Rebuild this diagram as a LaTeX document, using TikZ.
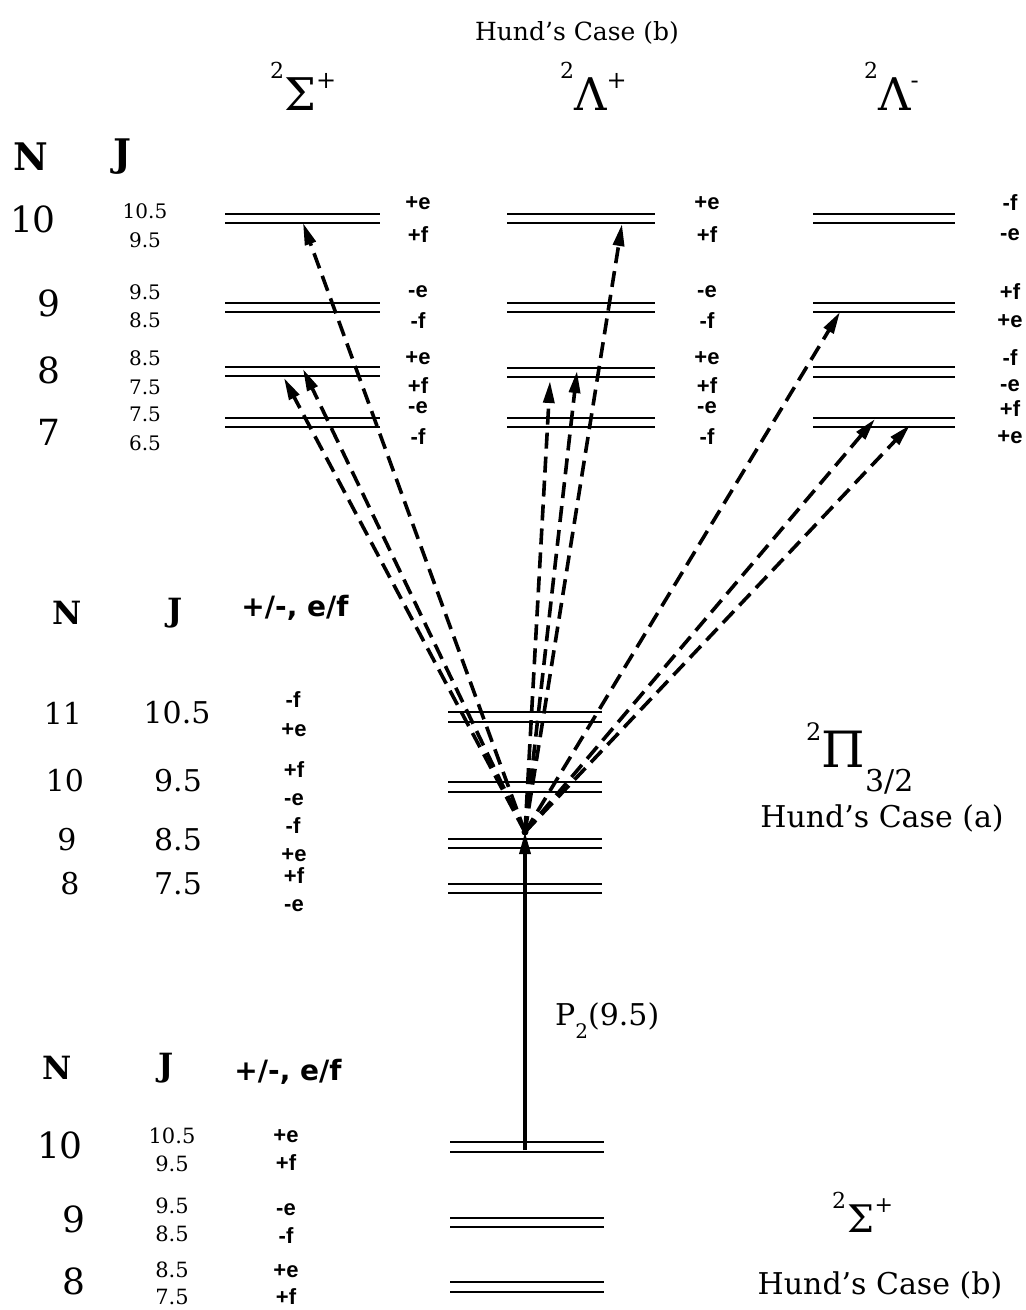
\documentclass[tikz,border=0pt]{standalone}
\usepackage{fontspec}
\setmainfont{DejaVu Serif}
\newfontfamily\pmfont{Liberation Sans}
\newfontfamily\hpmfont{DejaVu Sans}
\usetikzlibrary{arrows.meta}
\newcommand\fsz[1]{\fontsize{#1}{#1}\selectfont}
\newcommand\levelpair[4]{\draw[lvl] (#1,#3) -- (#2,#3); \draw[lvl] (#1,#4) -- (#2,#4);}
\tikzset{
  lvl/.style={line width=2.6pt},
  txt/.style={inner sep=0pt, anchor=center},
  bigN/.style={txt, font=\fsz{36}},
  midN/.style={txt, font=\fsz{30}},
  smJ/.style={txt, font=\fsz{20}},
  botJ/.style={txt, font=\fsz{21}},
  pm/.style={txt, font=\pmfont\bfseries\fsz{22}},
  hdr/.style={txt, font=\bfseries\fsz{32}},
  hdrpm/.style={txt, font=\hpmfont\bfseries\fsz{28}},
  case/.style={txt, font=\fsz{30}},
  trans/.style={line width=3.6pt, dash pattern=on 16pt off 8pt, -{Triangle[length=22pt,width=11pt]}},
  pump/.style={line width=3.4pt, -{Triangle[length=22pt,width=11pt]}}
}
\begin{document}
\begin{tikzpicture}[x=1pt,y=-1pt]
\useasboundingbox (0,0) rectangle (1026,1310);
\fill[white] (0,0) rectangle (1026,1310);

% ---------- top: Hund's case (b) upper state ----------
\node[txt, font=\fsz{25}] (hbtop) at (577,33) {Hund's Case (b)};
\node[inner sep=0pt, anchor=base west] (sigtop) at (270,110)
  {\raisebox{32pt}{\fsz{22}2}\fsz{45}Σ\raisebox{22pt}{\fsz{24}+}};
\node[inner sep=0pt, anchor=base west] (lamp) at (560,110)
  {\raisebox{32pt}{\fsz{22}2}\fsz{45}Λ\raisebox{22pt}{\fsz{24}+}};
\node[inner sep=0pt, anchor=base west] (lamm) at (864,110)
  {\raisebox{32pt}{\fsz{22}2}\fsz{45}Λ\raisebox{22pt}{\fsz{24}-}};

\node[hdr, font=\bfseries\fsz{38}] (Ntop) at (31,157) {N};
\node[hdr, font=\bfseries\fsz{38}] (Jtop) at (122,157) {J};

\node[bigN] (tN10) at (33,219) {10};
\node[bigN] (tN9) at (49,303) {9};
\node[bigN] (tN8) at (49,370) {8};
\node[bigN] (tN7) at (49,432) {7};

\node[smJ] (tJa) at (145,211) {10.5};
\node[smJ] (tJb) at (145,240) {9.5};
\node[smJ] (tJc) at (145,292) {9.5};
\node[smJ] (tJd) at (145,320) {8.5};
\node[smJ] (tJe) at (145,358) {8.5};
\node[smJ] (tJf) at (145,387) {7.5};
\node[smJ] (tJg) at (145,414) {7.5};
\node[smJ] (tJh) at (145,443) {6.5};

% level lines, three columns
\levelpair{225}{380}{214}{223}
\levelpair{225}{380}{303}{312}
\levelpair{225}{380}{367}{376}
\levelpair{225}{380}{418}{427}
\levelpair{507}{655}{214}{223}
\levelpair{507}{655}{303}{312}
\levelpair{507}{655}{368}{377}
\levelpair{507}{655}{418}{427}
\levelpair{813}{955}{214}{223}
\levelpair{813}{955}{303}{312}
\levelpair{813}{955}{367}{377}
\levelpair{813}{955}{418}{427}

% parity labels
\node[pm] (sa) at (418,203) {+e};
\node[pm] (sb) at (418,235) {+f};
\node[pm] (sc) at (418,292) {-e};
\node[pm] (sd) at (418,321) {-f};
\node[pm] (se) at (418,358) {+e};
\node[pm] (sf) at (418,386) {+f};
\node[pm] (sg) at (418,408) {-e};
\node[pm] (sh) at (418,437) {-f};

\node[pm] (pa) at (707,203) {+e};
\node[pm] (pb) at (707,235) {+f};
\node[pm] (pc) at (707,292) {-e};
\node[pm] (pd) at (707,321) {-f};
\node[pm] (pe) at (707,358) {+e};
\node[pm] (pf) at (707,386) {+f};
\node[pm] (pg) at (707,408) {-e};
\node[pm] (ph) at (707,437) {-f};

\node[pm] (ma) at (1010,203) {-f};
\node[pm] (mb) at (1010,235) {-e};
\node[pm] (mc) at (1010,292) {+f};
\node[pm] (md) at (1010,321) {+e};
\node[pm] (me) at (1010,358) {-f};
\node[pm] (mf) at (1010,386) {-e};
\node[pm] (mg) at (1010,409) {+f};
\node[pm] (mh) at (1010,437) {+e};

% ---------- middle: 2Pi 3/2 ----------
\node[hdr] (Nmid) at (67,613) {N};
\node[hdr] (Jmid) at (175,613) {J};
\node[hdrpm] (pmmid) at (295,608) {+/-, e/f};

\node[midN] (mN11) at (63,713) {11};
\node[midN] (mJ11) at (177,713) {10.5};
\node[pm] (m11a) at (293,700) {-f};
\node[pm] (m11b) at (294,730) {+e};
\node[midN] (mN10) at (65,781) {10};
\node[midN] (mJ10) at (178,781) {9.5};
\node[pm] (m10a) at (294,770) {+f};
\node[pm] (m10b) at (294,800) {-e};
\node[midN] (mN9) at (67,840) {9};
\node[midN] (mJ9) at (178,840) {8.5};
\node[pm] (m9a) at (293,826) {-f};
\node[pm] (m9b) at (294,855) {+e};
\node[midN] (mN8) at (70,884) {8};
\node[midN] (mJ8) at (178,884) {7.5};
\node[pm] (m8a) at (294,876) {+f};
\node[pm] (m8b) at (294,906) {-e};

\levelpair{448}{602}{712}{722}
\levelpair{448}{602}{782}{792}
\levelpair{448}{602}{839}{848}
\levelpair{448}{602}{884}{893}

\node[inner sep=0pt, anchor=base west] (pilab) at (806,767)
  {\raisebox{27pt}{\fsz{24}2}\fsz{50}Π\raisebox{-24pt}{\fsz{30}3/2}};
\node[case] (hca) at (882,818) {Hund's Case (a)};

% ---------- bottom: 2Sigma+ lower state ----------
\node[hdr] (Nbot) at (57,1068) {N};
\node[hdr] (Jbot) at (166,1068) {J};
\node[hdrpm] (pmbot) at (288,1072) {+/-, e/f};

\node[bigN] (bN10) at (60,1145) {10};
\node[botJ] (bJa) at (172,1136) {10.5};
\node[botJ] (bJb) at (172,1164) {9.5};
\node[pm] (bpa) at (286,1136) {+e};
\node[pm] (bpb) at (286,1163) {+f};
\node[bigN] (bN9) at (74,1219) {9};
\node[botJ] (bJc) at (172,1206) {9.5};
\node[botJ] (bJd) at (172,1234) {8.5};
\node[pm] (bpc) at (286,1210) {-e};
\node[pm] (bpd) at (286,1236) {-f};
\node[bigN] (bN8) at (74,1281) {8};
\node[botJ] (bJe) at (172,1270) {8.5};
\node[botJ] (bJf) at (172,1297) {7.5};
\node[pm] (bpe) at (286,1271) {+e};
\node[pm] (bpf) at (286,1297) {+f};

\levelpair{450}{604}{1142}{1152}
\levelpair{450}{604}{1218}{1227}
\levelpair{450}{604}{1282}{1292}

\node[inner sep=0pt, anchor=base west] (sigbot) at (832,1232)
  {\raisebox{24pt}{\fsz{22}2}\,\fsz{38}Σ\raisebox{20pt}{\fsz{22}+}};
\node[case] (hcb) at (880,1285) {Hund's Case (b)};

% ---------- transitions ----------
\coordinate (g10) at (525,1150);
\coordinate (c) at (525,832);
\draw[pump] (g10) -- (c);
\node[inner sep=0pt, anchor=base west] (plab) at (555,1025)
  {\fsz{30}P\raisebox{-13pt}{\fsz{20}2}(9.5)};
\fill (c) circle (3.5pt);

\coordinate (tS10) at (303,223);
\coordinate (tS8a) at (303,369);
\coordinate (tS8b) at (284,378);
\coordinate (tP10) at (622,224);
\coordinate (tP8a) at (550,381);
\coordinate (tP8b) at (577,371);
\coordinate (tM9) at (840,312);
\coordinate (tM7a) at (875,419);
\coordinate (tM7b) at (910,425);

\draw[trans] (c) -- (tS10);
\draw[trans] (c) -- (tS8a);
\draw[trans] (c) -- (tS8b);
\draw[trans] (c) -- (tP10);
\draw[trans] (c) -- (tP8a);
\draw[trans] (c) -- (tP8b);
\draw[trans] (c) -- (tM9);
\draw[trans] (c) -- (tM7a);
\draw[trans] (c) -- (tM7b);
\end{tikzpicture}
\end{document}
